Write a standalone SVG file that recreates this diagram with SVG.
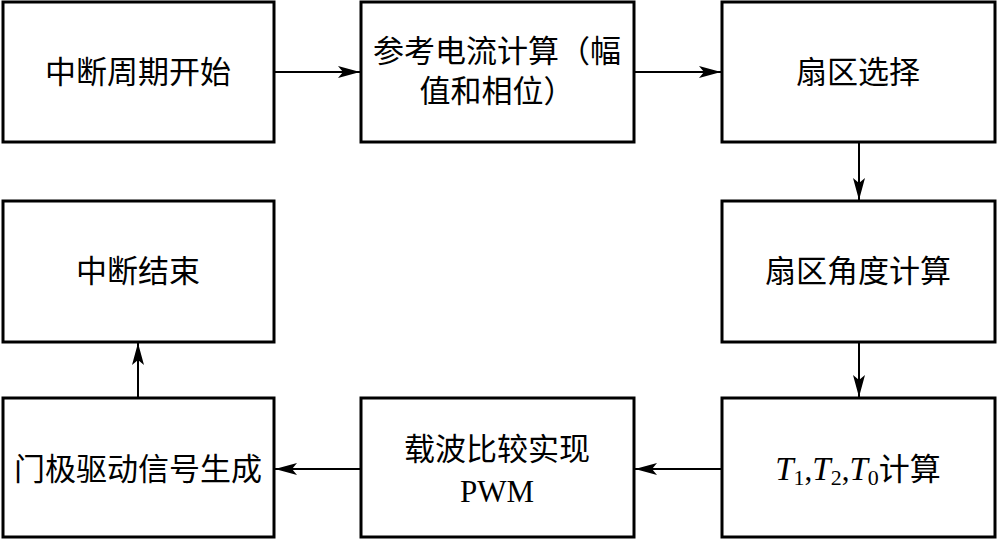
<svg xmlns="http://www.w3.org/2000/svg" width="998" height="541" viewBox="0 0 998 541">
<style>
.box{fill:#fff;stroke:#000;stroke-width:3}
.t{font-family:"Liberation Serif","Noto Sans CJK SC",serif;font-size:31px;fill:#000;text-anchor:middle}
.c{stroke:#000;stroke-width:2;fill:none}
</style>
<defs>
<marker id="ah" viewBox="0 0 22 12" refX="22" refY="6" markerWidth="22" markerHeight="12" markerUnits="userSpaceOnUse" orient="auto">
<path d="M0,0 L22,6 L0,12 L5,6 Z" fill="#000"/>
</marker>
</defs>
<rect width="998" height="541" fill="#fff"/>
<g id="n1"><rect class="box" x="3" y="2" width="271" height="140"/><text class="t" x="138" y="83">中断周期开始</text></g>
<g id="n2"><rect class="box" x="361" y="2" width="273" height="140"/><text class="t" x="497" y="62">参考电流计算（幅</text><text class="t" x="497" y="102">值和相位）</text></g>
<g id="n3"><rect class="box" x="722" y="2" width="273" height="140"/><text class="t" x="858" y="83">扇区选择</text></g>
<g id="n4"><rect class="box" x="722" y="201" width="273" height="141"/><text class="t" x="858" y="282">扇区角度计算</text></g>
<g id="n5"><rect class="box" x="722" y="398" width="273" height="139"/><text class="t" x="858" y="480"><tspan font-style="italic" font-size="33">T</tspan><tspan font-size="22" dy="5">1</tspan><tspan dy="-5">,</tspan><tspan font-style="italic" font-size="33">T</tspan><tspan font-size="22" dy="5">2</tspan><tspan dy="-5">,</tspan><tspan font-style="italic" font-size="33">T</tspan><tspan font-size="22" dy="5">0</tspan><tspan dy="-5">计算</tspan></text></g>
<g id="n6"><rect class="box" x="361" y="398" width="273" height="139"/><text class="t" x="497" y="460">载波比较实现</text><text class="t" x="497" y="502" font-size="33">PWM</text></g>
<g id="n7"><rect class="box" x="3" y="398" width="271" height="139"/><text class="t" x="138" y="480">门极驱动信号生成</text></g>
<g id="n8"><rect class="box" x="3" y="201" width="271" height="141"/><text class="t" x="138" y="282">中断结束</text></g>
<g id="connectors">
<line class="c" x1="275" y1="72" x2="360" y2="72" marker-end="url(#ah)"/>
<line class="c" x1="635" y1="72" x2="721" y2="72" marker-end="url(#ah)"/>
<line class="c" x1="859" y1="143" x2="859" y2="200" marker-end="url(#ah)"/>
<line class="c" x1="859" y1="343" x2="859" y2="397" marker-end="url(#ah)"/>
<line class="c" x1="721" y1="469" x2="635" y2="469" marker-end="url(#ah)"/>
<line class="c" x1="360" y1="469" x2="275" y2="469" marker-end="url(#ah)"/>
<line class="c" x1="138" y1="397" x2="138" y2="343" marker-end="url(#ah)"/>
</g>
</svg>
